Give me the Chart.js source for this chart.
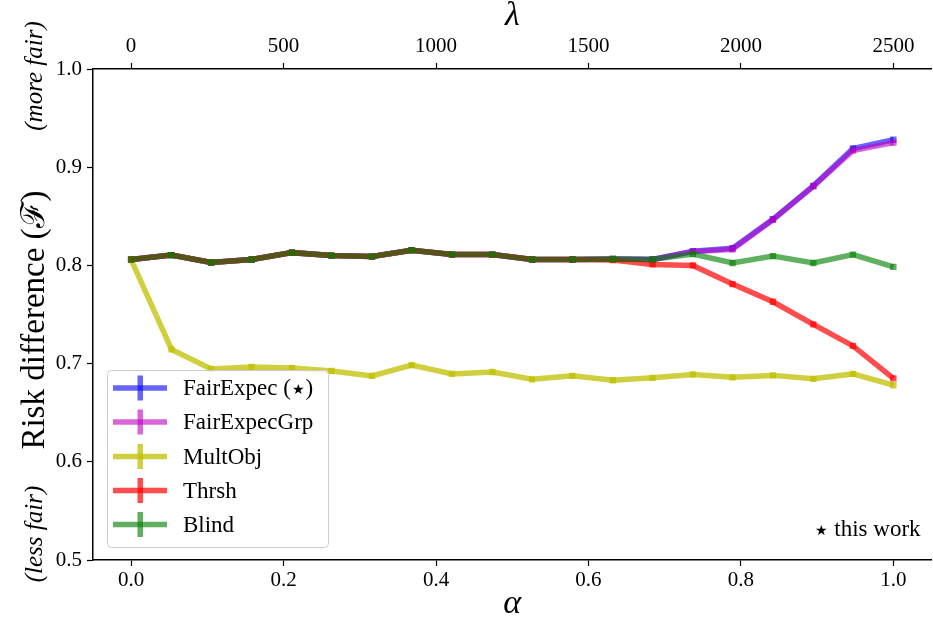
<!DOCTYPE html>
<html>
<head>
<meta charset="utf-8">
<script src="https://cdn.jsdelivr.net/npm/chart.js@4.4.0/dist/chart.umd.min.js"></script>
<style>
  html, body { margin: 0; padding: 0; background: #fff; overflow: hidden; }
</style>
</head>
<body>
<canvas id="chart" width="936" height="624"></canvas>
<script>
// values

const alphas = [0, 0.053, 0.105, 0.158, 0.211, 0.263, 0.316, 0.368, 0.421, 0.474,
                0.526, 0.579, 0.632, 0.684, 0.737, 0.789, 0.842, 0.895, 0.947, 1.0];

const fairExpec    = [0.806, 0.8105, 0.803, 0.806, 0.813, 0.810, 0.809, 0.8155, 0.811, 0.811,
                      0.806, 0.806, 0.8065, 0.806, 0.8145, 0.8175, 0.847, 0.881, 0.919, 0.928];
const fairExpecGrp = [0.806, 0.8105, 0.803, 0.806, 0.813, 0.810, 0.809, 0.8155, 0.811, 0.811,
                      0.806, 0.806, 0.8065, 0.806, 0.814, 0.8165, 0.8465, 0.8805, 0.917, 0.925];
const multObj      = [0.806, 0.7145, 0.6945, 0.6965, 0.6955, 0.6925, 0.6875, 0.6985, 0.6895, 0.6915,
                      0.684, 0.6875, 0.683, 0.6855, 0.689, 0.686, 0.688, 0.6845, 0.6895, 0.678];
const thrsh        = [0.806, 0.8105, 0.803, 0.806, 0.813, 0.810, 0.809, 0.8155, 0.811, 0.811,
                      0.806, 0.806, 0.8055, 0.801, 0.800, 0.781, 0.763, 0.740, 0.718, 0.685];
const blind        = [0.806, 0.8105, 0.803, 0.806, 0.813, 0.810, 0.809, 0.8155, 0.811, 0.811,
                      0.806, 0.806, 0.8065, 0.806, 0.8115, 0.8025, 0.8095, 0.8025, 0.811, 0.7985];

const seriesNames = ["FairExpec (\u2605)", "FairExpecGrp", "MultObj", "Thrsh", "Blind"];
const seriesColors = ["rgba(0,0,255,0.6)", "rgba(191,0,191,0.6)", "rgba(191,191,0,0.75)",
                      "rgba(255,0,0,0.7)", "rgba(0,128,0,0.62)"];

const alphaTicks = [0, 0.2, 0.4, 0.6, 0.8, 1.0];
const lambdaTicks = [0, 500, 1000, 1500, 2000, 2500];
const riskTicks = [0.5, 0.6, 0.7, 0.8, 0.9, 1.0];

const SERIF = '"Liberation Serif", "DejaVu Serif", serif';
const STAR_FONT = '"DejaVu Sans", sans-serif';

function makeSet(i, values) {
  return {
    label: seriesNames[i],
    data: values.map((v, k) => ({x: alphas[k], y: v})),
    borderColor: seriesColors[i],
    backgroundColor: seriesColors[i],
    borderWidth: 5.5,
    pointStyle: 'rect',
    pointRadius: 4.5,
    pointBorderWidth: 0,
    tension: 0,
    order: 5 - i
  };
}

const datasets = [fairExpec, fairExpecGrp, multObj, thrsh, blind].map((v, i) => makeSet(i, v));

// draws text left-aligned, with the star glyph in its own font
function textWithStar(ctx, str, x, y, font, starFont) {
  const parts = str.split('\u2605');
  let cx = x;
  parts.forEach((p, i) => {
    if (i > 0) {
      ctx.font = starFont;
      ctx.fillText('\u2605', cx + 1, y + 1);
      cx += ctx.measureText('\u2605').width + 2;
    }
    ctx.font = font;
    ctx.fillText(p, cx, y);
    cx += ctx.measureText(p).width;
  });
}

const annotate = {
  id: 'annotate',
  afterDraw(chart) {
    const ctx = chart.ctx;
    const xs = chart.scales.x;
    ctx.save();
    ctx.fillStyle = '#000';
    ctx.textAlign = 'center';
    ctx.textBaseline = 'middle';

    // axis titles
    ctx.font = 'italic 34px ' + SERIF;
    ctx.fillText('\u03bb', xs.getPixelForValue(0.5), 16);
    ctx.fillText('\u03b1', xs.getPixelForValue(0.5), 604);

    // y titles, rotated
    const ytitles = [
      ['italic 25px ' + SERIF, '(less fair)', 534],
      ['33px ' + SERIF, 'Risk difference (\u2131)', 320],
      ['italic 25px ' + SERIF, '(more fair)', 76]
    ];
    ytitles.forEach(t => {
      ctx.save();
      ctx.translate(35, t[2]);
      ctx.rotate(-Math.PI / 2);
      ctx.font = t[0];
      ctx.fillText(t[1], 0, 0);
      ctx.restore();
    });

    // legend
    ctx.beginPath();
    ctx.roundRect(107.5, 370.5, 221, 177, 4);
    ctx.fillStyle = 'rgba(255,255,255,0.8)';
    ctx.fill();
    ctx.strokeStyle = '#cccccc';
    ctx.lineWidth = 1;
    ctx.stroke();

    const rows = [388, 422, 456.5, 490.5, 524.5];
    ctx.textAlign = 'left';
    chart.data.datasets.forEach((ds, i) => {
      const y = rows[i];
      ctx.fillStyle = ds.borderColor;
      ctx.fillRect(113, y - 2.75, 54, 5.5);
      ctx.fillRect(137.5, y - 12.5, 5.5, 25);
      ctx.fillStyle = '#000';
      textWithStar(ctx, ds.label, 183, y + 1, '23px ' + SERIF, '14px ' + STAR_FONT);
    });

    // note in the corner
    textWithStar(ctx, '\u2605 this work', 814, 530, '23px ' + SERIF, '14px ' + STAR_FONT);
    ctx.restore();
  }
};

const tickFont = { family: SERIF, size: 21 };

const options = {
  responsive: false,
  animation: false,
  layout: { padding: 0 },
  plugins: {
    legend: { display: false },
    tooltip: { enabled: false }
  },
  scales: {
    x: {
      type: 'linear',
      position: 'bottom',
      min: -0.05,
      max: 1.05,
      afterBuildTicks: s => { s.ticks = alphaTicks.map(v => ({value: v})); },
      afterFit: s => { s.height = 64; },
      ticks: { font: tickFont, color: '#000', padding: 2, maxRotation: 0,
               callback: v => v.toFixed(1) },
      grid: { drawOnChartArea: false, drawTicks: true, tickLength: 6, color: '#000', tickWidth: 1.2 },
      border: { display: true, color: '#000', width: 1.5 }
    },
    x2: {
      type: 'linear',
      position: 'top',
      min: -125,
      max: 2625,
      afterBuildTicks: s => { s.ticks = lambdaTicks.map(v => ({value: v})); },
      afterFit: s => { s.height = 69; },
      ticks: { font: tickFont, color: '#000', padding: 4, maxRotation: 0,
               callback: v => String(v) },
      grid: { drawOnChartArea: false, drawTicks: true, tickLength: 6, color: '#000', tickWidth: 1.2 },
      border: { display: true, color: '#000', width: 1.5 }
    },
    y: {
      min: 0.5,
      max: 1.0,
      afterBuildTicks: s => { s.ticks = riskTicks.map(v => ({value: v})); },
      afterFit: s => { s.width = 93; },
      ticks: { font: tickFont, color: '#000', padding: 5,
               callback: v => v.toFixed(1) },
      grid: { drawOnChartArea: false, drawTicks: true, tickLength: 6, color: '#000', tickWidth: 1.2 },
      border: { display: true, color: '#000', width: 1.5 }
    }
  }
};

const chart = new Chart(document.getElementById('chart').getContext('2d'), {
  type: 'line',
  data: { datasets: datasets },
  options: options,
  plugins: [annotate]
});
</script>
</body>
</html>
